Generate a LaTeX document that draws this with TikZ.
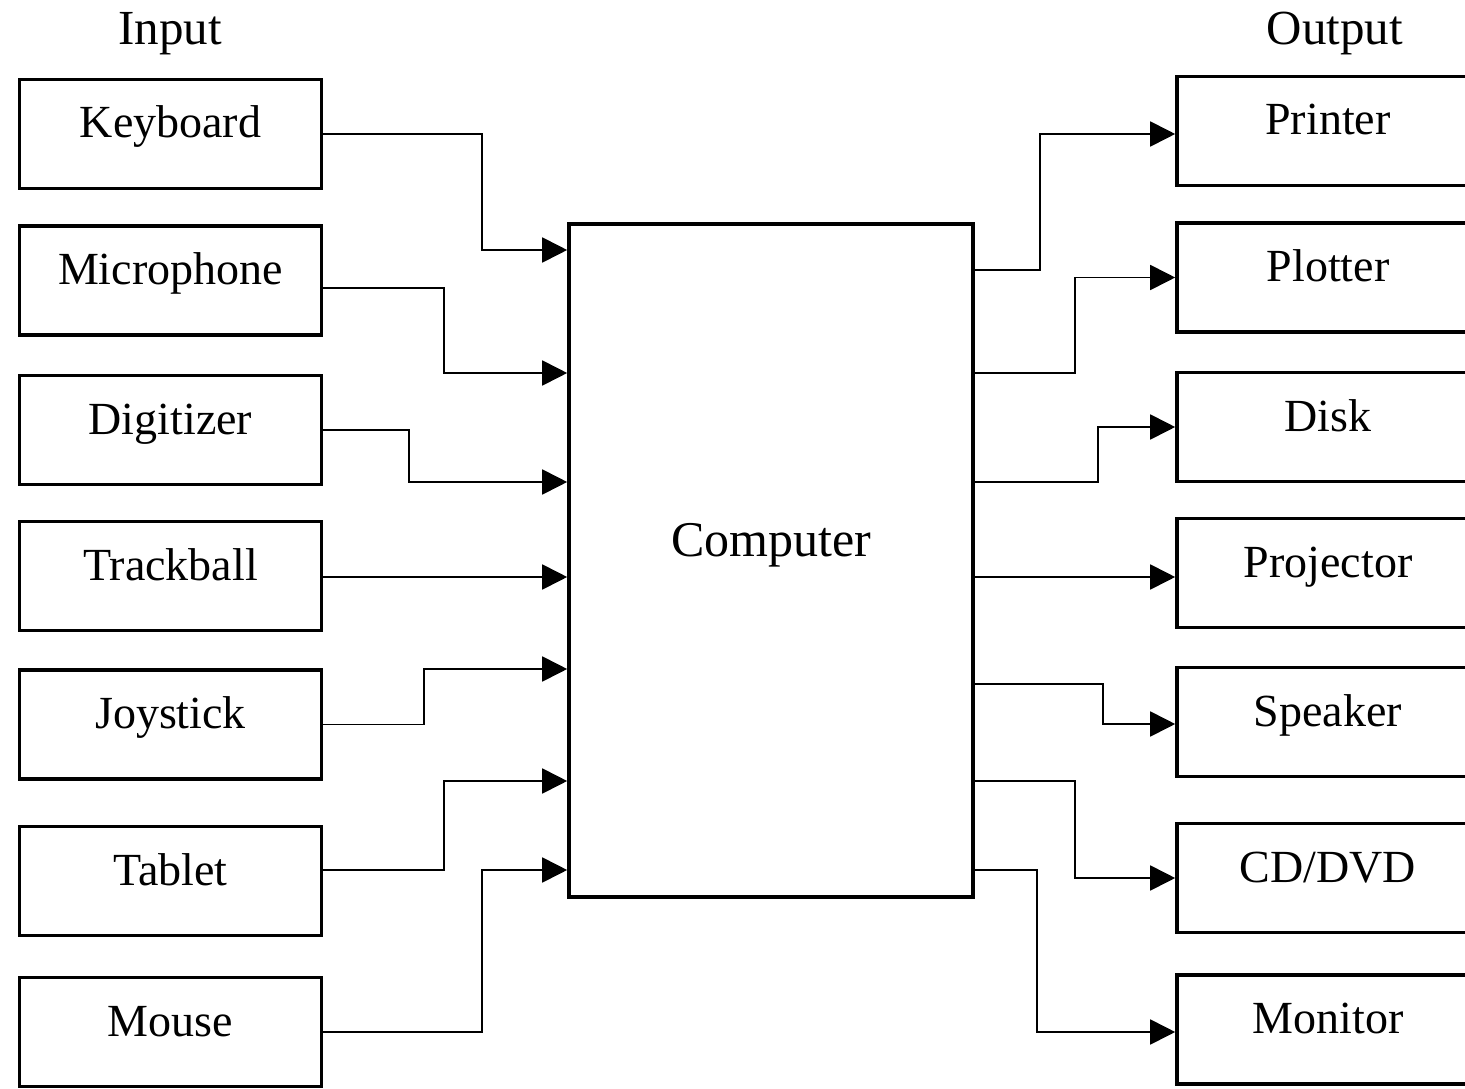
\documentclass[tikz,border=0pt]{standalone}
\usepackage{fontspec}
\setmainfont{Liberation Serif}
\usetikzlibrary{arrows.meta}
\begin{document}
\begin{tikzpicture}[x=1pt,y=-1pt,
  dev/.style={draw,line width=3.6pt,minimum width=302pt,minimum height=109pt,inner sep=0pt,
    text height=32pt,text depth=24pt,font=\fontsize{46}{50}\selectfont},
  comp/.style={draw,line width=3.6pt,minimum width=404pt,minimum height=673pt,inner sep=0pt,
    text height=22pt,text depth=30pt,font=\fontsize{50}{54}\selectfont},
  head/.style={anchor=base,font=\fontsize{49}{54}\selectfont},
  conn/.style={line width=1.8pt,-{Triangle[length=25pt,width=25pt]}}]
\useasboundingbox (0,0) rectangle (1465,1089);
% headings
\node[head] (inp) at (170,45) {Input};
\node[head] (outp) at (1335,45) {Output};
% input devices
\node[dev] (kb) at (170.5,134) {Keyboard};
\node[dev] (mic) at (170.5,280.5) {Microphone};
\node[dev] (dig) at (170.5,430) {Digitizer};
\node[dev] (trk) at (170.5,576) {Trackball};
\node[dev] (joy) at (170.5,724.5) {Joystick};
\node[dev] (tab) at (170.5,881) {Tablet};
\node[dev] (mou) at (170.5,1032) {Mouse};
% computer
\node[comp] (cpu) at (771,560.5) {Computer};
% output devices
\node[dev] (prn) at (1328,131) {Printer};
\node[dev] (plt) at (1328,277.5) {Plotter};
\node[dev] (dsk) at (1328,427) {Disk};
\node[dev] (prj) at (1328,573) {Projector};
\node[dev] (spk) at (1328,722) {Speaker};
\node[dev] (cdd) at (1328,878) {CD/DVD};
\node[dev] (mon) at (1328,1029.5) {Monitor};
% input connectors
\draw[conn] (kb.east) -| (482,250) -- (cpu.west |- 0,250);
\draw[conn] (mic.east |- 0,288) -| (444,373) -- (cpu.west |- 0,373);
\draw[conn] (dig.east) -| (409,482) -- (cpu.west |- 0,482);
\draw[conn] (trk.east |- 0,577) -- (cpu.west |- 0,577);
\draw[conn] (joy.east) -| (424,669) -- (cpu.west |- 0,669);
\draw[conn] (tab.east |- 0,870) -| (444,781) -- (cpu.west |- 0,781);
\draw[conn] (mou.east) -| (482,870) -- (cpu.west |- 0,870);
% output connectors
\draw[conn] (cpu.east |- 0,270) -| (1040,134) -- (prn.west |- 0,134);
\draw[conn] (cpu.east |- 0,373) -| (1075,277.5) -- (plt.west);
\draw[conn] (cpu.east |- 0,482) -| (1098,427) -- (dsk.west);
\draw[conn] (cpu.east |- 0,577) -- (prj.west |- 0,577);
\draw[conn] (cpu.east |- 0,684) -| (1103,724) -- (spk.west |- 0,724);
\draw[conn] (cpu.east |- 0,781) -| (1075,878) -- (cdd.west);
\draw[conn] (cpu.east |- 0,870) -| (1037,1032) -- (mon.west |- 0,1032);
\end{tikzpicture}
\end{document}
